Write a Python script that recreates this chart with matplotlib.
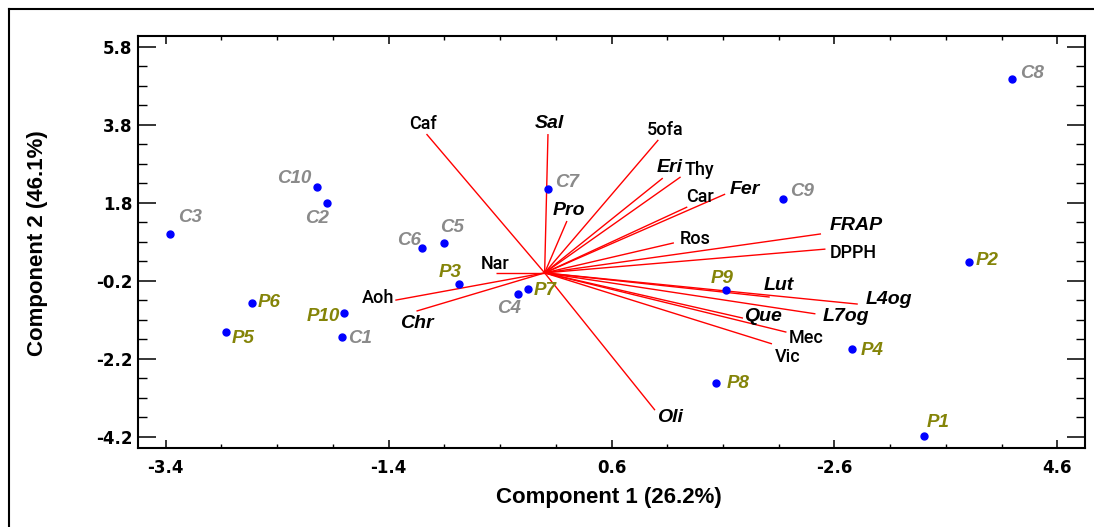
import matplotlib
matplotlib.use("Agg")
import matplotlib.pyplot as plt
import numpy as np
from matplotlib.lines import Line2D

# ---- sample scores (Component 1, Component 2) ----
sample_names = ["C1", "C2", "C3", "C4", "C5", "C6", "C7", "C8", "C9", "C10",
                "P1", "P2", "P3", "P4", "P5", "P6", "P7", "P8", "P9", "P10"]
sample_pc1 = [-1.82, -1.95, -3.36, -0.24, -0.90, -1.10, 0.03, 4.19, 2.14, -2.04,
              3.40, 3.81, -0.77, 2.76, -2.86, -2.63, -0.15, 1.54, 1.63, -1.80]
sample_pc2 = [-1.64, 1.79, 1.00, -0.54, 0.77, 0.64, 2.15, 4.97, 1.89, 2.20,
              -4.18, 0.28, -0.28, -1.95, -1.52, -0.77, -0.41, -2.82, -0.44, -1.03]

# ---- variable loadings (scaled) ----
var_names = ["Caf", "Sal", "5ofa", "Eri", "Thy", "Car", "Fer", "Pro", "Ros",
             "FRAP", "DPPH", "Lut", "L4og", "L7og", "Que", "Mec", "Vic", "Oli",
             "Nar", "Aoh", "Chr"]
var_pc1 = [-1.06, 0.03, 1.02, 1.06, 1.22, 1.28, 1.62, 0.20, 1.16,
           2.48, 2.52, 2.02, 2.81, 2.43, 1.78, 2.17, 2.04, 0.99,
           -0.44, -1.34, -1.15]
var_pc2 = [3.56, 3.56, 3.41, 2.43, 2.46, 1.69, 2.02, 1.33, 0.77,
           1.00, 0.61, -0.62, -0.80, -1.05, -1.16, -1.52, -1.82, -3.52,
           0.00, -0.70, -0.98]
var_emphasis = {"Sal", "Eri", "Fer", "Pro", "FRAP", "Lut", "L4og", "L7og",
                "Que", "Oli", "Chr"}

x_ticks = [-3.4, -1.4, 0.6, 2.6, 4.6]
x_tick_labels = ["-3.4", "-1.4", "0.6", "-2.6", "4.6"]
y_ticks = [5.8, 3.8, 1.8, -0.2, -2.2, -4.2]
y_tick_labels = ["5.8", "3.8", "1.8", "-0.2", "-2.2", "-4.2"]

# label offsets in pixels (dx right, dy down)
sample_offsets = {
    "C1": (18, 2), "C2": (-10, 15), "C3": (20, -16), "C4": (-9, 15),
    "C5": (8, -15), "C6": (-13, -7), "C7": (19, -7), "C8": (20, -6),
    "C9": (19, -8), "C10": (-23, -9),
    "P1": (15, -13), "P2": (18, -1), "P3": (-9, -11), "P4": (20, 2),
    "P5": (17, 6), "P6": (18, 0), "P7": (17, 2), "P8": (22, 1),
    "P9": (-4, -12), "P10": (-21, 3),
}
var_offsets = {
    "Caf": (-4, -10), "Sal": (1, -11), "5ofa": (7, -10), "Eri": (7, -11),
    "Thy": (19, -7), "Car": (13, -10), "Fer": (20, -5), "Pro": (2, -11),
    "Ros": (21, -4), "FRAP": (35, -8), "DPPH": (28, 4), "Lut": (9, -12),
    "L4og": (31, -5), "L7og": (30, 3), "Que": (20, -2), "Mec": (20, 6),
    "Vic": (16, 13), "Oli": (15, 7), "Nar": (0, -9), "Aoh": (-17, -2),
    "Chr": (0, 12),
}

DPI = 100
fig = plt.figure(figsize=(10.94, 5.27), dpi=DPI)
W, H = 1094, 527
ax = fig.add_axes([138 / W, 1 - 448 / H, (1085 - 138) / W, (448 - 36) / H])
ax.set_xlim(-3.649, 4.849)
ax.set_ylim(-4.49, 6.074)

px2pt = 72.0 / DPI

# loadings as red rays from the origin
for name, vx, vy in zip(var_names, var_pc1, var_pc2):
    ax.plot([0, vx], [0, vy], color="#ff0000", lw=1.0, solid_capstyle="butt", zorder=2)
    dx, dy = var_offsets[name]
    if name in var_emphasis:
        kw = dict(family=["Liberation Sans", "DejaVu Sans"], weight="bold",
                  style="italic", fontsize=14)
    else:
        kw = dict(family=["Roboto", "Liberation Sans", "DejaVu Sans"],
                  weight="medium", fontsize=13)
    ax.annotate(name, (vx, vy), xytext=(dx * px2pt, -dy * px2pt),
                textcoords="offset points", ha="center", va="center",
                color="black", zorder=4, **kw)

# sample scores as blue dots
ax.plot(sample_pc1, sample_pc2, linestyle="none", marker="o", ms=5,
        color="#0000ff", mec="#0000ff", zorder=3)
for name, sx, sy in zip(sample_names, sample_pc1, sample_pc2):
    dx, dy = sample_offsets[name]
    col = "#8a8a8a" if name.startswith("C") else "#848408"
    ax.annotate(name, (sx, sy), xytext=(dx * px2pt, -dy * px2pt),
                textcoords="offset points", ha="center", va="center",
                color=col, fontsize=13.5, weight="bold", style="italic",
                family=["Liberation Sans", "DejaVu Sans"], zorder=4)

# axes frame and ticks
for sp in ax.spines.values():
    sp.set_linewidth(1.5)
ax.set_xticks(x_ticks)
ax.set_xticklabels(x_tick_labels)
ax.set_yticks(y_ticks)
ax.set_yticklabels(y_tick_labels)
ax.set_xticks(np.arange(-3.4, 4.85, 0.5), minor=True)
ax.set_yticks(np.arange(-4.2, 6.0, 0.5), minor=True)
ax.tick_params(axis="x", which="major", direction="in", length=5.5, width=1.1,
               top=True, bottom=True, pad=8)
ax.tick_params(axis="x", which="minor", direction="in", length=3, width=1.0,
               top=True, bottom=True)
ax.tick_params(axis="y", which="major", direction="in", length=13, width=1.1,
               left=True, right=True, pad=4)
ax.tick_params(axis="y", which="minor", direction="in", length=6.5, width=1.0,
               left=True, right=True)
for lab in ax.get_xticklabels() + ax.get_yticklabels():
    lab.set_fontfamily(["DejaVu Sans"])
    lab.set_fontweight("bold")
    lab.set_fontsize(12)

ax.set_xlabel("Component 1 (26.2%)", fontsize=16, weight="bold",
              family=["Liberation Sans", "DejaVu Sans"])
ax.set_ylabel("Component 2 (46.1%)", fontsize=16, weight="bold",
              family=["Liberation Sans", "DejaVu Sans"])
ax.xaxis.label.set_verticalalignment("center")
ax.yaxis.label.set_verticalalignment("center")
ax.xaxis.set_label_coords((608.5 - 138) / 947, (448 - 498) / 412)
ax.yaxis.set_label_coords((38 - 138) / 947, (448 - 243) / 412)

# outer frame (top and left edges)
fig.add_artist(Line2D([9 / W, 1.0], [1 - 9 / H, 1 - 9 / H], transform=fig.transFigure,
                      color="black", lw=1.5))
fig.add_artist(Line2D([9 / W, 9 / W], [0.0, 1 - 9 / H], transform=fig.transFigure,
                      color="black", lw=1.5))

fig.savefig("out.png", dpi=DPI)
